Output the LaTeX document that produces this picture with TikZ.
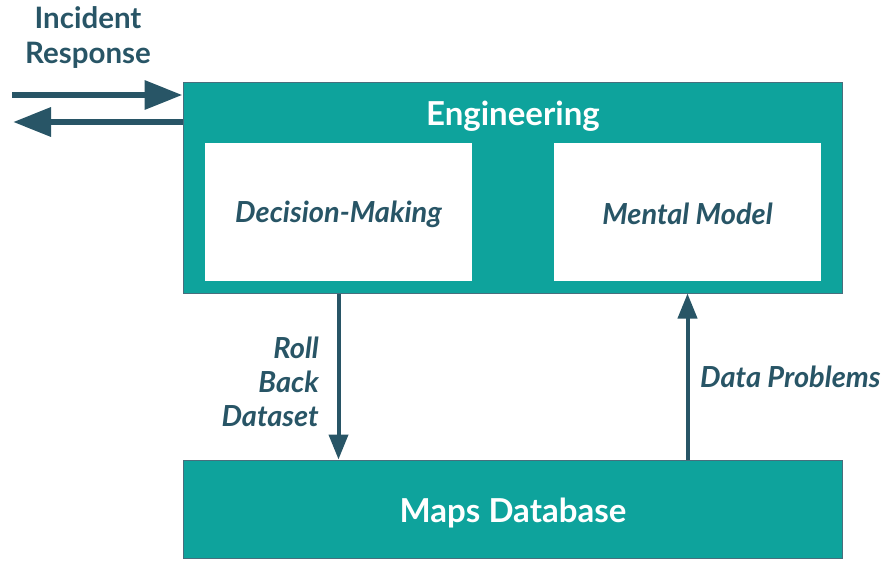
\documentclass[tikz,border=0pt]{standalone}
\usepackage{fontspec}
\setmainfont{Lato}
\usetikzlibrary{arrows.meta,positioning}

\definecolor{boxteal}{HTML}{0EA39C}
\definecolor{inkslate}{HTML}{285566}

\tikzset{
  tealblock/.style={draw=inkslate!85, line width=1pt, fill=boxteal, inner sep=0pt},
  whiteblock/.style={fill=white, inner sep=0pt, minimum width=267pt, minimum height=138pt},
  boxtext/.style={text=inkslate, font=\fontsize{29}{34}\selectfont\bfseries\itshape},
  titletext/.style={text=white, font=\fontsize{33}{38}\selectfont\bfseries},
  flowlabel/.style={text=inkslate, font=\fontsize{29}{34}\selectfont\bfseries\itshape, inner sep=0pt},
  flow/.style={draw=inkslate, line width=4pt, -{Triangle[length=25pt,width=19pt]}},
  sideflow/.style={draw=inkslate, line width=6.5pt, -{Triangle[length=38pt,width=28pt]}}
}

\begin{document}
\begin{tikzpicture}[x=1pt,y=-1pt]
  \useasboundingbox (0,0) rectangle (885,560);

  % main blocks
  \node[tealblock, minimum width=659pt, minimum height=211pt] (eng) at (512.5,187.5) {};
  \node[titletext] (engtitle) at (513,116) {Engineering};
  \node[whiteblock] (dm) at (338.5,212) {};
  \node[whiteblock] (mm) at (687.5,212) {};
  \node[boxtext] (dmtext) at (338.5,214) {Decision-Making};
  \node[boxtext] (mmtext) at (687.5,214) {Mental Model};
  \node[tealblock, minimum width=659pt, minimum height=98pt] (maps) at (512.5,509) {};
  \node[titletext] (mapstitle) at (513,513) {Maps Database};

  % flows between engineering and database
  \draw[flow] (eng.south -| dm) -- (maps.north -| dm);
  \draw[flow] (maps.north -| mm) -- (eng.south -| mm);
  \node[flowlabel, anchor=east, align=right] (rbd) at (319,382) {Roll\\Back\\Dataset};
  \node[flowlabel, anchor=west] (dp) at (700,377) {Data Problems};

  % incident response in and out
  \coordinate (irin) at (12,95);
  \coordinate (irout) at (13,122);
  \draw[sideflow] (irin) -- (irin -| eng.west);
  \draw[sideflow] (irout -| eng.west) -- (irout);
  \node[text=inkslate, font=\fontsize{29.5}{35}\selectfont\bfseries, align=center, inner sep=0pt] (ir) at (88,38) {Incident\\Response};
\end{tikzpicture}
\end{document}
